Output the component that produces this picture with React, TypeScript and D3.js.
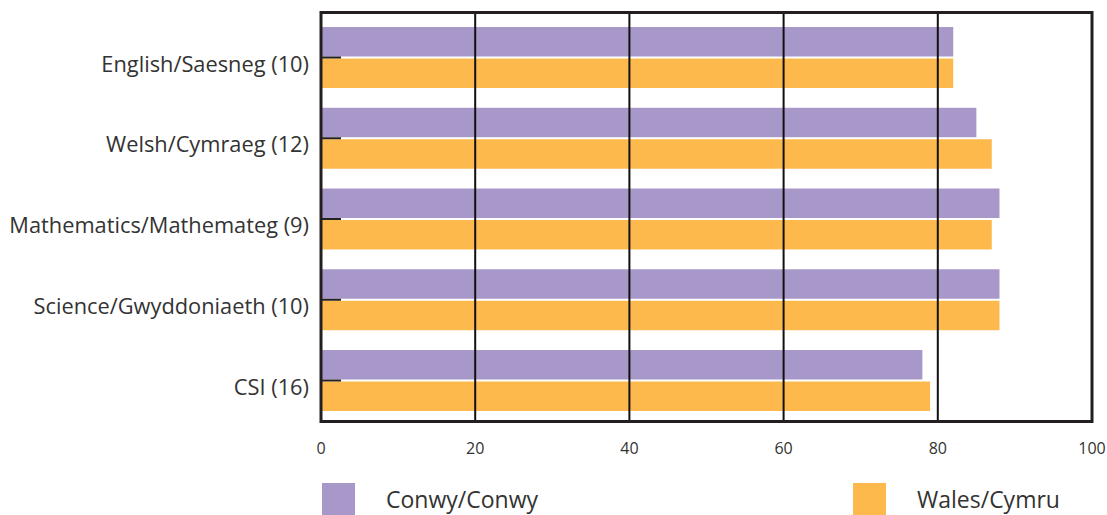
import React from "react";
import * as d3 from "d3";

const categories = [
  "English/Saesneg (10)",
  "Welsh/Cymraeg (12)",
  "Mathematics/Mathemateg (9)",
  "Science/Gwyddoniaeth (10)",
  "CSI (16)",
];
const conwy = [82, 85, 88, 88, 78];
const wales = [82, 87, 87, 88, 79];
const xTicks = [0, 20, 40, 60, 80, 100];
const seriesNames = ["Conwy/Conwy", "Wales/Cymru"];
const colors = ["#A898C9", "#FDB94C"];

export default function App() {
  const W = 1107, H = 515;
  const left = 321, right = 1092, top = 12.5, bottom = 421.5;
  const x = d3.scaleLinear().domain([0, 100]).range([left, right]);
  const y = d3
    .scaleBand<string>()
    .domain(categories)
    .range([top, bottom])
    .paddingInner(0.245)
    .paddingOuter(0.155)
    .align(0.58);
  const bw = y.bandwidth();
  const gap = 2;
  const bh = (bw - gap) / 2;
  const font = "'Open Sans', Lato, sans-serif";
  const series = [conwy, wales];

  return (
    <svg width={W} height={H} style={{ position: "absolute", left: 0, top: 0, display: "block" }}>
      <rect x={0} y={0} width={W} height={H} fill="#fff" />
      {categories.map((c, i) =>
        series.map((s, k) => (
          <rect
            key={c + k}
            x={x(0)}
            y={(y(c) as number) + k * (bh + gap)}
            width={x(s[i]) - x(0)}
            height={bh}
            fill={colors[k]}
          />
        ))
      )}
      {xTicks.slice(1, -1).map((t) => (
        <line key={t} x1={x(t)} x2={x(t)} y1={top} y2={bottom} stroke="#111" strokeWidth={2} />
      ))}
      {categories.map((c) => (
        <line
          key={"tk" + c}
          x1={x(0)}
          x2={x(0) + 20}
          y1={(y(c) as number) + bw / 2}
          y2={(y(c) as number) + bw / 2}
          stroke="#222"
          strokeWidth={2}
        />
      ))}
      <rect x={left} y={top} width={right - left} height={bottom - top} fill="none" stroke="#231F20" strokeWidth={3} />
      {categories.map((c) => (
        <text
          key={"l" + c}
          x={309}
          y={(y(c) as number) + bw / 2 + 14}
          textAnchor="end"
          fontFamily={font}
          fontSize={21.8}
          fill="#333"
        >
          {c}
        </text>
      ))}
      {xTicks.map((t) => (
        <text
          key={"x" + t}
          x={x(t)}
          y={454}
          textAnchor="middle"
          fontFamily={font}
          fontSize={16}
          fill="#333"
        >
          {t}
        </text>
      ))}
      {seriesNames.map((n, k) => {
        const lx = k === 0 ? 322 : 853;
        return (
          <g key={n}>
            <rect x={lx} y={483} width={33} height={32} fill={colors[k]} />
            <text x={lx + 64} y={508} fontFamily={font} fontSize={23} fill="#333">
              {n}
            </text>
          </g>
        );
      })}
    </svg>
  );
}
